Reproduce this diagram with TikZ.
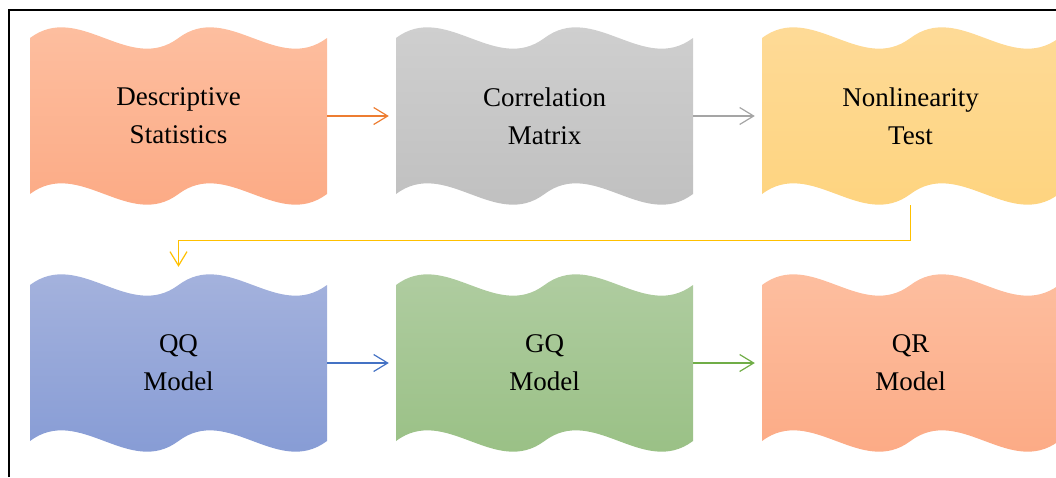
\documentclass[tikz,border=0pt]{standalone}
\usepackage{fontspec}
\setmainfont{Liberation Serif}
\usetikzlibrary{arrows.meta,calc}
\definecolor{orT}{RGB}{253,193,163}
\definecolor{orB}{RGB}{252,168,130}
\definecolor{grT}{RGB}{209,209,209}
\definecolor{grB}{RGB}{190,190,190}
\definecolor{yeT}{RGB}{254,219,154}
\definecolor{yeB}{RGB}{254,211,124}
\definecolor{blT}{RGB}{168,181,222}
\definecolor{blB}{RGB}{131,153,212}
\definecolor{gnT}{RGB}{178,206,164}
\definecolor{gnB}{RGB}{151,191,130}
\definecolor{aOr}{RGB}{237,125,49}
\definecolor{aGr}{RGB}{165,165,165}
\definecolor{aGo}{RGB}{255,192,0}
\definecolor{aBl}{RGB}{68,114,196}
\definecolor{aGn}{RGB}{112,173,71}
\tikzset{
  boxtext/.style={minimum width=297pt, minimum height=178pt, inner sep=0pt,
    align=center, text=black, font=\fontsize{27}{38}\selectfont},
  conn/.style={line width=1.2pt, -{Straight Barb[length=14pt,width=17pt]}, shorten >=7pt},
}
\newcommand{\wavebox}[5]{%
  \begin{scope}[shift={(#2)}]
    \path[top color=#3, bottom color=#4]
      (-148.5,-78) .. controls (-99,-115) and (-49.5,-41) .. (0,-78)
      .. controls (49.5,-115) and (99,-41) .. (148.5,-78)
      -- (148.5,78) .. controls (99,115) and (49.5,41) .. (0,78)
      .. controls (-49.5,115) and (-99,41) .. (-148.5,78) -- cycle;
    \node[boxtext] (#1) at (0,0) {#5};
  \end{scope}}
\begin{document}
\begin{tikzpicture}[x=1pt,y=-1pt]
\useasboundingbox (0,0) rectangle (1056,477);
\clip (0,0) rectangle (1056,477);
\draw[line width=2pt] (9,477) -- (9,10) -- (1057,10);
\wavebox{ds}{178.5,116}{orT}{orB}{Descriptive\\Statistics}
\wavebox{cm}{544.5,116}{grT}{grB}{Correlation\\Matrix}
\wavebox{nl}{910.5,116}{yeT}{yeB}{Nonlinearity\\Test}
\wavebox{qq}{178.5,363}{blT}{blB}{QQ\\Model}
\wavebox{gq}{544.5,363}{gnT}{gnB}{GQ\\Model}
\wavebox{qr}{910.5,363}{orT}{orB}{QR\\Model}
\draw[conn, aOr] (ds.east) -- (cm.west);
\draw[conn, aGr] (cm.east) -- (nl.west);
\draw[conn, aBl] (qq.east) -- (gq.west);
\draw[conn, aGn] (gq.east) -- (qr.west);
\coordinate (bend) at ($(nl.south)+(0,35)$);
\draw[conn, aGo] (nl.south) -- (bend) -| (qq.north);
\end{tikzpicture}
\end{document}
